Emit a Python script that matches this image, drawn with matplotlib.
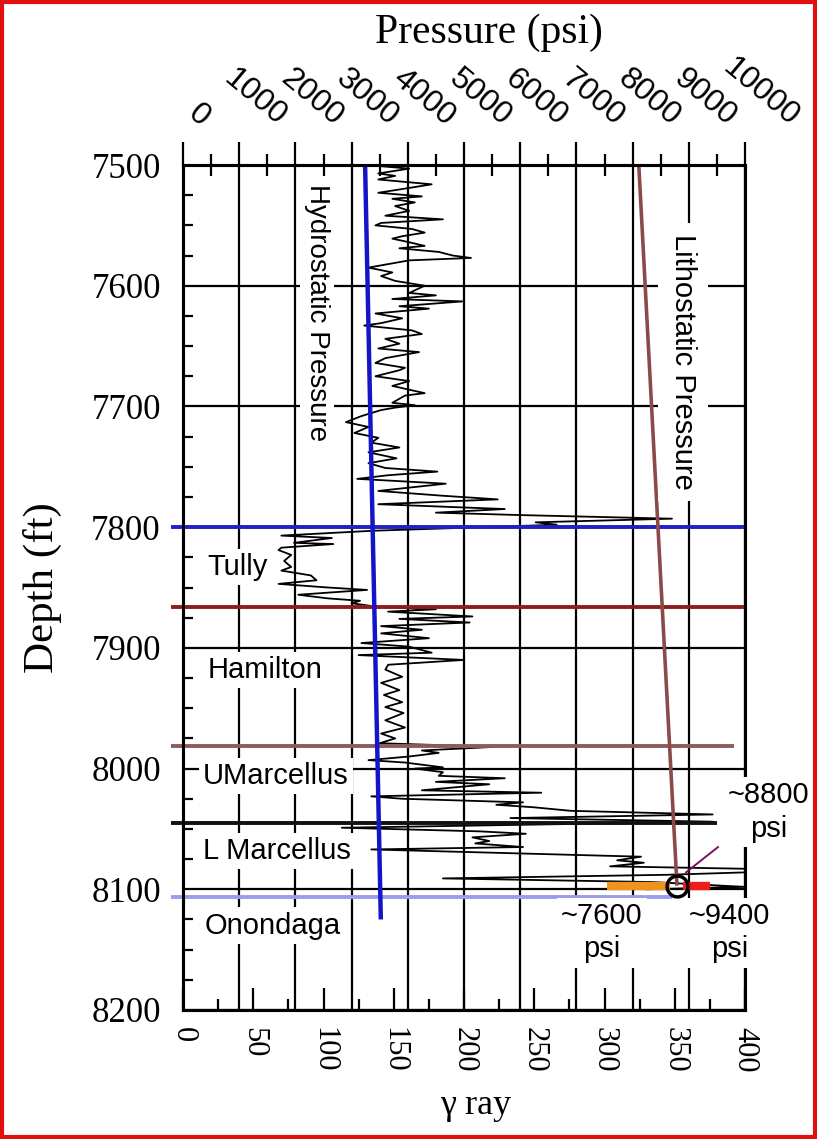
import matplotlib
matplotlib.use('Agg')
import matplotlib.pyplot as plt
import matplotlib.transforms as mtransforms
from matplotlib.patches import Rectangle
from matplotlib.ticker import MultipleLocator

plt.rcParams['font.family'] = ['Liberation Sans', 'DejaVu Sans']

# ---------------- data ----------------
gr_depth = [7501, 7503, 7507, 7509, 7512, 7516, 7519, 7523, 7526, 7528, 7531, 7534, 7538, 7542, 7545,
            7548, 7550, 7553, 7556, 7559, 7561, 7564, 7567, 7569, 7572, 7575, 7577, 7579, 7585, 7589,
            7592, 7596, 7600,
            7606, 7608, 7611, 7613, 7617, 7619, 7623, 7627, 7631, 7633, 7637, 7640, 7644, 7648, 7652,
            7655, 7660, 7664, 7668, 7670, 7675, 7679, 7683, 7689, 7691, 7697, 7699,
            7701, 7703, 7708, 7713, 7717, 7722, 7726, 7730, 7734, 7738, 7743, 7747, 7751, 7754, 7757,
            7760, 7764, 7767, 7770, 7774, 7777, 7781, 7785, 7788, 7790, 7793, 7796, 7798, 7803, 7807,
            7809, 7813, 7814, 7817, 7819, 7823, 7828, 7833, 7836, 7840, 7844, 7847, 7850, 7852, 7856,
            7859, 7861, 7863, 7866,
            7868, 7870, 7874, 7876, 7879, 7882, 7885, 7888, 7892, 7896, 7899, 7904, 7906, 7910, 7914,
            7918, 7924, 7929, 7935, 7939, 7945, 7949, 7954, 7960, 7966, 7971, 7975, 7979,
            7982, 7985, 7987, 7990, 7993, 7995, 7999, 8000, 8003, 8006, 8008, 8011, 8013, 8015, 8018,
            8020, 8023, 8025, 8028, 8030, 8032, 8035, 8038, 8041, 8044,
            8049, 8052, 8054, 8057, 8060, 8062, 8065, 8067, 8073, 8076, 8078, 8081, 8083, 8086, 8088,
            8091, 8094, 8098, 8100]
gr_api = [141, 161, 139, 151, 139, 177, 161, 139, 170, 149, 165, 151, 161, 144, 185,
          141, 137, 163, 172, 156, 149, 161, 172, 154, 182, 192, 205, 161, 132, 149,
          141, 151, 172,
          161, 180, 149, 199, 154, 175, 137, 156, 141, 129, 163, 170, 144, 154, 139,
          168, 144, 137, 158, 154, 137, 161, 149, 172, 158, 149, 165,
          151, 141, 127, 116, 132, 122, 139, 134, 154, 132, 152, 132, 144, 181, 146,
          124, 187, 163, 139, 185, 224, 139, 229, 180, 240, 348, 251, 266, 135, 70,
          106, 79, 107, 70, 68, 77, 72, 77, 70, 91, 95, 68, 103, 131, 82,
          103, 126, 120, 138,
          180, 146, 206, 154, 204, 141, 170, 141, 175, 127, 161, 177, 125, 200, 146,
          144, 156, 141, 154, 143, 156, 144, 157, 144, 158, 141, 151, 140,
          222, 170, 182, 161, 132, 158, 185, 165, 185, 182, 229, 180, 218, 199, 170,
          255, 134, 156, 242, 223, 249, 276, 377, 233, 377,
          113, 211, 244, 206, 218, 208, 242, 134, 326, 309, 328, 304, 400, 400, 344,
          185, 334, 400, 330]

hydro_depth = [7500, 8125]
hydro_psi = [3240, 3520]
litho_depth = [7500, 8097]
litho_psi = [8110, 8790]

boundary_depth = [7800, 7866, 7981, 8045, 8106]
boundary_color = ['#2020c8', '#8c1e1e', '#8c5c5c', '#111111', '#9c9cec']
boundary_end = [1.0, 1.0, 0.98, 0.95, 0.87]

formation_names = ['Tully', 'Hamilton', 'UMarcellus', 'L Marcellus', 'Onondaga']
formation_depth = [7833, 7918, 8006, 8068, 8130]
formation_psi = [440, 440, 360, 360, 390]

low_range_psi = [7540, 8660]
high_range_psi = [8900, 9380]
range_depth = 8097
est_psi = 8790
arrow_psi = [8950, 9520]
arrow_depth = [8086, 8065]

psi_ticks = list(range(0, 10001, 1000))
depth_ticks = list(range(7500, 8201, 100))
gr_ticks = list(range(0, 401, 50))

# ---------------- figure ----------------
fig = plt.figure(figsize=(8.17, 11.39), dpi=100)
ax = fig.add_axes([183/817, 1-1010/1139, (745-183)/817, (1010-165)/1139])
ax2 = ax.twiny()

serif = 'Liberation Serif'
sans = 'Liberation Sans'

ax.set_xlim(0, 400)
ax.set_ylim(8200, 7500)
ax2.set_xlim(0, 10000)

# grids
ax.set_yticks(depth_ticks)
ax.yaxis.set_minor_locator(MultipleLocator(25))
ax.set_xticks(gr_ticks)
ax.xaxis.set_minor_locator(MultipleLocator(25))
ax.grid(axis='y', color='black', lw=1.6, zorder=1)
ax2.set_xticks(psi_ticks)
ax2.xaxis.set_minor_locator(MultipleLocator(500))
ax2.grid(axis='x', color='black', lw=1.6, zorder=1)

# gamma ray curve
ax.plot(gr_api, gr_depth, color='black', lw=1.3, zorder=3)

# formation boundaries
for d, c, e in zip(boundary_depth, boundary_color, boundary_end):
    ax2.plot([-0.022, e], [d, d], color=c, lw=2.8, transform=ax2.get_yaxis_transform(),
             clip_on=False, zorder=4, solid_capstyle='butt')

# pressure lines
ax2.plot(hydro_psi, hydro_depth, color='#1414c8', lw=3.2, zorder=5, solid_capstyle='butt')
ax2.plot(litho_psi, litho_depth, color='#8b4a4a', lw=2.6, zorder=5, solid_capstyle='butt')

ax2.plot(low_range_psi, [range_depth]*2, color='#f0921e', lw=6, zorder=6, solid_capstyle='butt')
ax2.plot(high_range_psi, [range_depth]*2, color='#ee1c1c', lw=6, zorder=6, solid_capstyle='butt')
ax2.plot([est_psi], [range_depth], marker='o', ms=15, mfc='none', mec='black', mew=2.5, zorder=7)
ax2.plot(arrow_psi, arrow_depth, color='#7a1060', lw=1.4, zorder=7)

# text annotations
box = dict(facecolor='white', edgecolor='none', pad=3)
ax2.text(2385, 7622, 'Hydrostatic Pressure', rotation=-90, ha='center', va='center',
         fontsize=20, family=sans, bbox=box, zorder=10)
ax2.text(8900, 7663, 'Lithostatic Pressure', rotation=-90, ha='center', va='center',
         fontsize=21, family=sans, bbox=dict(facecolor='white', edgecolor='none', pad=8), zorder=10)
for name, d, p in zip(formation_names, formation_depth, formation_psi):
    ax2.text(p, d, name, ha='left', va='center', fontsize=21, family=sans, bbox=box, zorder=10)

ax2.text(10420, 8036, '~8800\npsi', ha='center', va='center', fontsize=21, family=sans,
         linespacing=1.25, bbox=box, zorder=10, clip_on=False)
ax2.text(7450, 8136, '~7600\npsi', ha='center', va='center', fontsize=21, family=sans,
         linespacing=1.25, bbox=box, zorder=10)
ax2.text(9730, 8136, '~9400\npsi', ha='center', va='center', fontsize=21, family=sans,
         linespacing=1.25, bbox=box, zorder=10, clip_on=False)

# ticks (lengths in points; 1 px = 0.72 pt at 100 dpi)
ax.tick_params(axis='y', which='major', direction='in', length=0, labelsize=25, pad=16, right=False)
ax.tick_params(axis='y', which='minor', direction='in', length=7, width=1.6, right=False)
ax.tick_params(axis='x', which='major', direction='in', length=16, width=1.6, labelsize=22, pad=12,
               top=False, labelrotation=-90)
ax.tick_params(axis='x', which='minor', direction='in', length=8, width=1.6, top=False)
for lbl in ax.get_yticklabels() + ax.get_xticklabels():
    lbl.set_family(serif)

ax2.tick_params(axis='x', which='major', direction='out', length=16.5, width=1.6, labelsize=23,
                pad=7, bottom=False, top=True)
ax2.tick_params(axis='x', which='minor', direction='inout', length=16, width=1.6,
                bottom=False, top=True)
ax2.set_xticklabels([str(t) for t in psi_ticks])
shift = mtransforms.ScaledTranslation(0.16, 0, fig.dpi_scale_trans)
for lbl in ax2.get_xticklabels():
    lbl.set_rotation(-40)
    lbl.set_ha('center')
    lbl.set_va('bottom')
    lbl.set_family(sans)
    lbl.set_transform(lbl.get_transform() + shift)

for a in (ax, ax2):
    for s in a.spines.values():
        s.set_linewidth(2.2)
        s.set_zorder(8)

ax.set_ylabel('Depth (ft)', fontsize=31, family=serif)
ax.yaxis.set_label_coords(-0.215, 0.5)
ax.set_xlabel('γ ray', fontsize=26, family=serif)
ax.xaxis.set_label_coords(0.52, -0.093)
ax2.set_xlabel('Pressure (psi)', fontsize=30, family=serif)
ax2.xaxis.set_label_coords(0.545, 1.145)

fig.patches.append(Rectangle((0.003, 0.002), 0.994, 0.996, transform=fig.transFigure,
                             fill=False, edgecolor='#e01010', lw=3))

fig.savefig('out.png', dpi=100)
